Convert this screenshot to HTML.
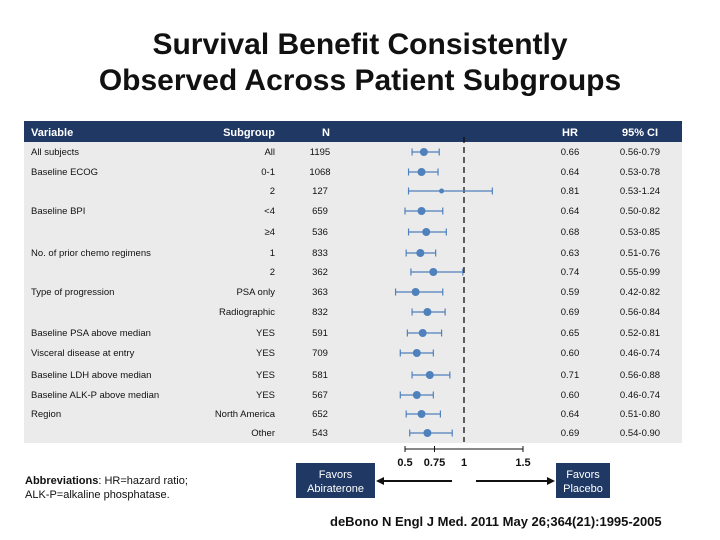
<!DOCTYPE html>
<html><head><meta charset="utf-8"><style>
body{margin:0;width:720px;height:540px;background:#fff;font-family:"Liberation Sans",sans-serif;position:relative;overflow:hidden}
.t{position:absolute;white-space:nowrap}
</style></head><body>
<div class="t" style="left:0;width:720px;top:27px;text-align:center;font-size:30px;font-weight:bold;line-height:36px;color:#111">Survival Benefit Consistently<br>Observed Across Patient Subgroups</div>
<svg id="c" width="720" height="540" style="position:absolute;left:0;top:0"></svg>
<div class="t" style="left:25px;top:474px;font-size:11px;line-height:14px;color:#111"><b>Abbreviations</b>: HR=hazard ratio;<br>ALK-P=alkaline phosphatase.</div>
<div class="t" style="left:330px;top:514px;font-size:13px;font-weight:bold;color:#111">deBono N Engl J Med. 2011 May 26;364(21):1995-2005</div>
<script>
const variables=["All subjects","Baseline ECOG","","Baseline BPI","","No. of prior chemo regimens","","Type of progression","","Baseline PSA above median","Visceral disease at entry","Baseline LDH above median","Baseline ALK-P above median","Region",""];
const subgroups=["All","0-1","2","<4","≥4","1","2","PSA only","Radiographic","YES","YES","YES","YES","North America","Other"];
const ns=["1195","1068","127","659","536","833","362","363","832","591","709","581","567","652","543"];
const hr=[0.66,0.64,0.81,0.64,0.68,0.63,0.74,0.59,0.69,0.65,0.60,0.71,0.60,0.64,0.69];
const lo=[0.56,0.53,0.53,0.50,0.53,0.51,0.55,0.42,0.56,0.52,0.46,0.56,0.46,0.51,0.54];
const hi=[0.79,0.78,1.24,0.82,0.85,0.76,0.99,0.82,0.84,0.81,0.74,0.88,0.74,0.80,0.90];
const ciLabels=["0.56-0.79","0.53-0.78","0.53-1.24","0.50-0.82","0.53-0.85","0.51-0.76","0.55-0.99","0.42-0.82","0.56-0.84","0.52-0.81","0.46-0.74","0.56-0.88","0.46-0.74","0.51-0.80","0.54-0.90"];
const rowY=[152,172,191,211,232,253,272,292,312,333,353,375,395,414,433];
const ticks=[0.5,0.75,1,1.5];
const tickLabels=["0.5","0.75","1","1.5"];
const x=v=>405+(v-0.5)*118;
const svg=document.getElementById('c');const NS="http://www.w3.org/2000/svg";
function el(t,a,p){const e=document.createElementNS(NS,t);for(const k in a)e.setAttribute(k,a[k]);(p||svg).appendChild(e);return e;}
function tx(s,xx,y,anchor,size,fill,bold,name){const e=el('text',{x:xx,y:y,'text-anchor':anchor,'font-size':size,fill:fill,'font-family':'Liberation Sans, sans-serif','font-weight':bold?'bold':'normal'});e.textContent=s;return e;}
let r=el('rect',{x:24,y:142,width:658,height:301,fill:'#ebebeb'});
r=el('rect',{x:24,y:121,width:658,height:21,fill:'#1f3864'});
tx("Variable",31,136,'start',11,'#fff',true,'header-variable');
tx("Subgroup",275,136,'end',11,'#fff',true,'header-subgroup');
tx("N",326,136,'middle',11,'#fff',true,'header-n');
tx("HR",570,136,'middle',11,'#fff',true,'header-hr');
tx("95% CI",640,136,'middle',11,'#fff',true,'header-ci');
let d=el('line',{x1:x(1),x2:x(1),y1:137,y2:442,stroke:'#111','stroke-width':1.3,'stroke-dasharray':'6,4'});
for(let i=0;i<hr.length;i++){const y=rowY[i];
 if(variables[i])tx(variables[i],31,y+3,'start',9.5,'#111',false,'variable-label');
 tx(subgroups[i],275,y+3,'end',9.5,'#111',false,'subgroup-label');
 tx(ns[i],320,y+3,'middle',9.5,'#111',false,'n-value');
 tx(hr[i].toFixed(2),570,y+3,'middle',9.5,'#111',false,'hr-value');
 tx(ciLabels[i],640,y+3,'middle',9.5,'#111',false,'ci-value');
 const g=el('g',{stroke:'#4f81bd','stroke-width':1.2});
 
 el('line',{x1:x(lo[i]),x2:x(hi[i]),y1:y,y2:y},g);
 el('line',{x1:x(lo[i]),x2:x(lo[i]),y1:y-3.5,y2:y+3.5},g);
 el('line',{x1:x(hi[i]),x2:x(hi[i]),y1:y-3.5,y2:y+3.5},g);
 const c=el('circle',{cx:x(hr[i]),cy:y,r:i==2?2.5:4,fill:'#4f81bd'});
 
}
const ax=el('g',{stroke:'#111','stroke-width':1});
el('line',{x1:x(0.5),x2:x(1.5),y1:449,y2:449},ax);
[0.5,0.75,1.5].forEach(v=>el('line',{x1:x(v),x2:x(v),y1:446,y2:452},ax));
ticks.forEach((v,i)=>tx(tickLabels[i],x(v),466,'middle',11,'#111',true,'tick-label'));
function box(x0,w,l1,l2,name){const b=el('rect',{x:x0,y:463,width:w,height:35,fill:'#1f3864'});tx(l1,x0+w/2,478,'middle',11,'#fff',false,name+'-text');tx(l2,x0+w/2,492,'middle',11,'#fff',false,name+'-text');}
box(296,79,"Favors","Abiraterone",'favors-abiraterone-box');
box(556,54,"Favors","Placebo",'favors-placebo-box');
const ar=el('g',{stroke:'#111','stroke-width':2,fill:'#111'});
el('line',{x1:452,x2:382,y1:481,y2:481},ar);el('polygon',{points:'376,481 384,477 384,485','stroke-width':0},ar);
el('line',{x1:476,x2:548,y1:481,y2:481},ar);el('polygon',{points:'555,481 547,477 547,485','stroke-width':0},ar);
</script>
</body></html>
